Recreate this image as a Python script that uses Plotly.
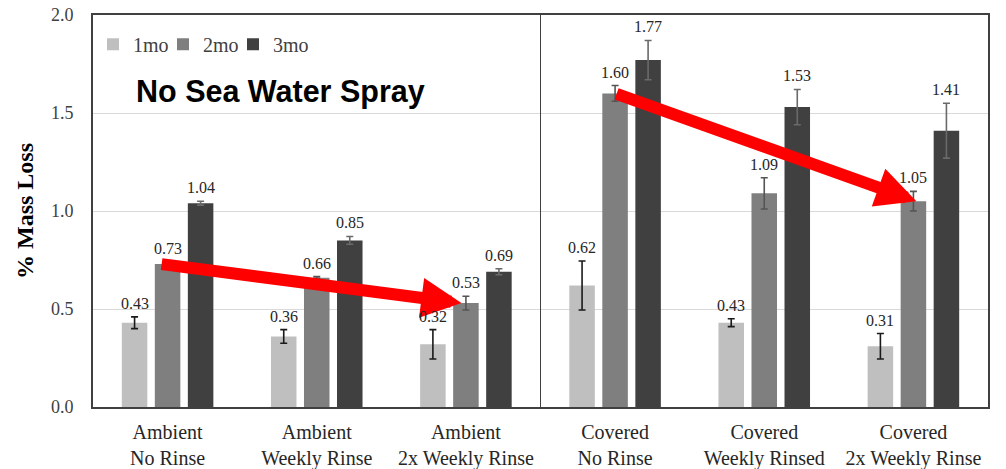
import plotly.graph_objects as go

# Treatment groups (x-axis categories)
categories = [
    "Ambient<br>No Rinse",
    "Ambient<br>Weekly Rinse",
    "Ambient<br>2x Weekly Rinse",
    "Covered<br>No Rinse",
    "Covered<br>Weekly Rinsed",
    "Covered<br>2x Weekly Rinse",
]

# Mean % mass loss per exposure duration
loss_1mo = [0.43, 0.36, 0.32, 0.62, 0.43, 0.31]
loss_2mo = [0.73, 0.66, 0.53, 1.60, 1.09, 1.05]
loss_3mo = [1.04, 0.85, 0.69, 1.77, 1.53, 1.41]

# Standard deviations (error bars)
err_1mo = [0.03, 0.035, 0.075, 0.125, 0.02, 0.065]
err_2mo = [0.01, 0.005, 0.035, 0.04, 0.08, 0.05]
err_3mo = [0.01, 0.02, 0.015, 0.10, 0.09, 0.14]

series_names = ["1mo", "2mo", "3mo"]
series_values = [loss_1mo, loss_2mo, loss_3mo]
series_errors = [err_1mo, err_2mo, err_3mo]
series_colors = ["#bfbfbf", "#7f7f7f", "#404040"]
error_colors = ["#1a1a1a", "#555555", "#6a6a6a"]
legend_widths = [25, 25, 40]

SERIF = "Liberation Serif, Times New Roman, serif"
SANS = "Liberation Sans, Arial, sans-serif"

BARGAP = 0.336
BARGROUPGAP = 0.227
slot = (1 - BARGAP) / len(series_names)

fig = go.Figure()
for name, vals, errs, col, ecol, lw in zip(series_names, series_values, series_errors,
                                           series_colors, error_colors, legend_widths):
    fig.add_trace(go.Bar(
        name=name,
        x=categories,
        y=vals,
        legendwidth=lw,
        marker=dict(color=col, line=dict(width=0)),
        error_y=dict(type="data", array=errs, visible=True,
                     color=ecol, thickness=1.6, width=3.5),
    ))

annotations = []

# Red trend arrows linking the 2mo bars (no rinse -> 2x weekly rinse)
arrow_pairs = [(0, 2, -0.05, -0.03), (3, 5, 0.0, 0.02)]
for start, end, dx0, dx1 in arrow_pairs:
    annotations.append(dict(
        x=end + dx1, y=loss_2mo[end], xref="x", yref="y",
        ax=start + dx0, ay=loss_2mo[start], axref="x", ayref="y",
        text="", showarrow=True, arrowhead=2, arrowsize=0.67,
        arrowwidth=12, arrowcolor="#ff0000", standoff=0,
    ))

# Value labels above each error bar
for k, (vals, errs) in enumerate(zip(series_values, series_errors)):
    for i, (v, e) in enumerate(zip(vals, errs)):
        annotations.append(dict(
            x=i + (k - 1) * slot, y=v + e, xref="x", yref="y",
            text=f"{v:.2f}", showarrow=False, yanchor="bottom",
            yshift=3, font=dict(family=SERIF, size=16, color="#262626"),
        ))

annotations.append(dict(
    x=0.209, y=0.8036, xref="paper", yref="paper",
    text="<b>No Sea Water Spray</b>", showarrow=False,
    xanchor="center", yanchor="middle",
    font=dict(family=SANS, size=30.5, color="#000000"),
))

fig.update_layout(
    width=1006, height=469,
    margin=dict(l=93, r=18, t=15, b=62, autoexpand=False),
    paper_bgcolor="white", plot_bgcolor="white",
    barmode="group", bargap=BARGAP, bargroupgap=BARGROUPGAP,
    showlegend=True,
    legend=dict(
        orientation="h", x=0.0, y=0.975, xanchor="left", yanchor="top",
        font=dict(family=SERIF, size=20, color="#404040"),
        bgcolor="rgba(0,0,0,0)", itemwidth=30,
        traceorder="normal",
    ),
    annotations=annotations,
    shapes=[dict(type="line", xref="x", yref="y", x0=2.5, x1=2.5, y0=0, y1=2,
                 line=dict(color="#404040", width=1))],
)

fig.update_xaxes(
    type="category", automargin=False,
    showline=True, linecolor="#404040", linewidth=2, mirror=True,
    ticks="outside", ticklen=6, tickcolor="rgba(0,0,0,0)",
    tickfont=dict(family=SERIF, size=20, color="#262626"),
    showgrid=False,
)
fig.update_yaxes(
    range=[0, 2], dtick=0.5, tickformat=".1f", automargin=False,
    showline=True, linecolor="#404040", linewidth=2, mirror=True,
    ticks="outside", ticklen=14, tickcolor="rgba(0,0,0,0)",
    tickfont=dict(family=SERIF, size=18, color="#404040"),
    showgrid=True, gridcolor="#d9d9d9", gridwidth=1,
    zeroline=False,
    title=dict(text="<b>% Mass Loss</b>", standoff=11,
               font=dict(family=SERIF, size=24, color="#000000")),
)

fig.write_html("out.html")
